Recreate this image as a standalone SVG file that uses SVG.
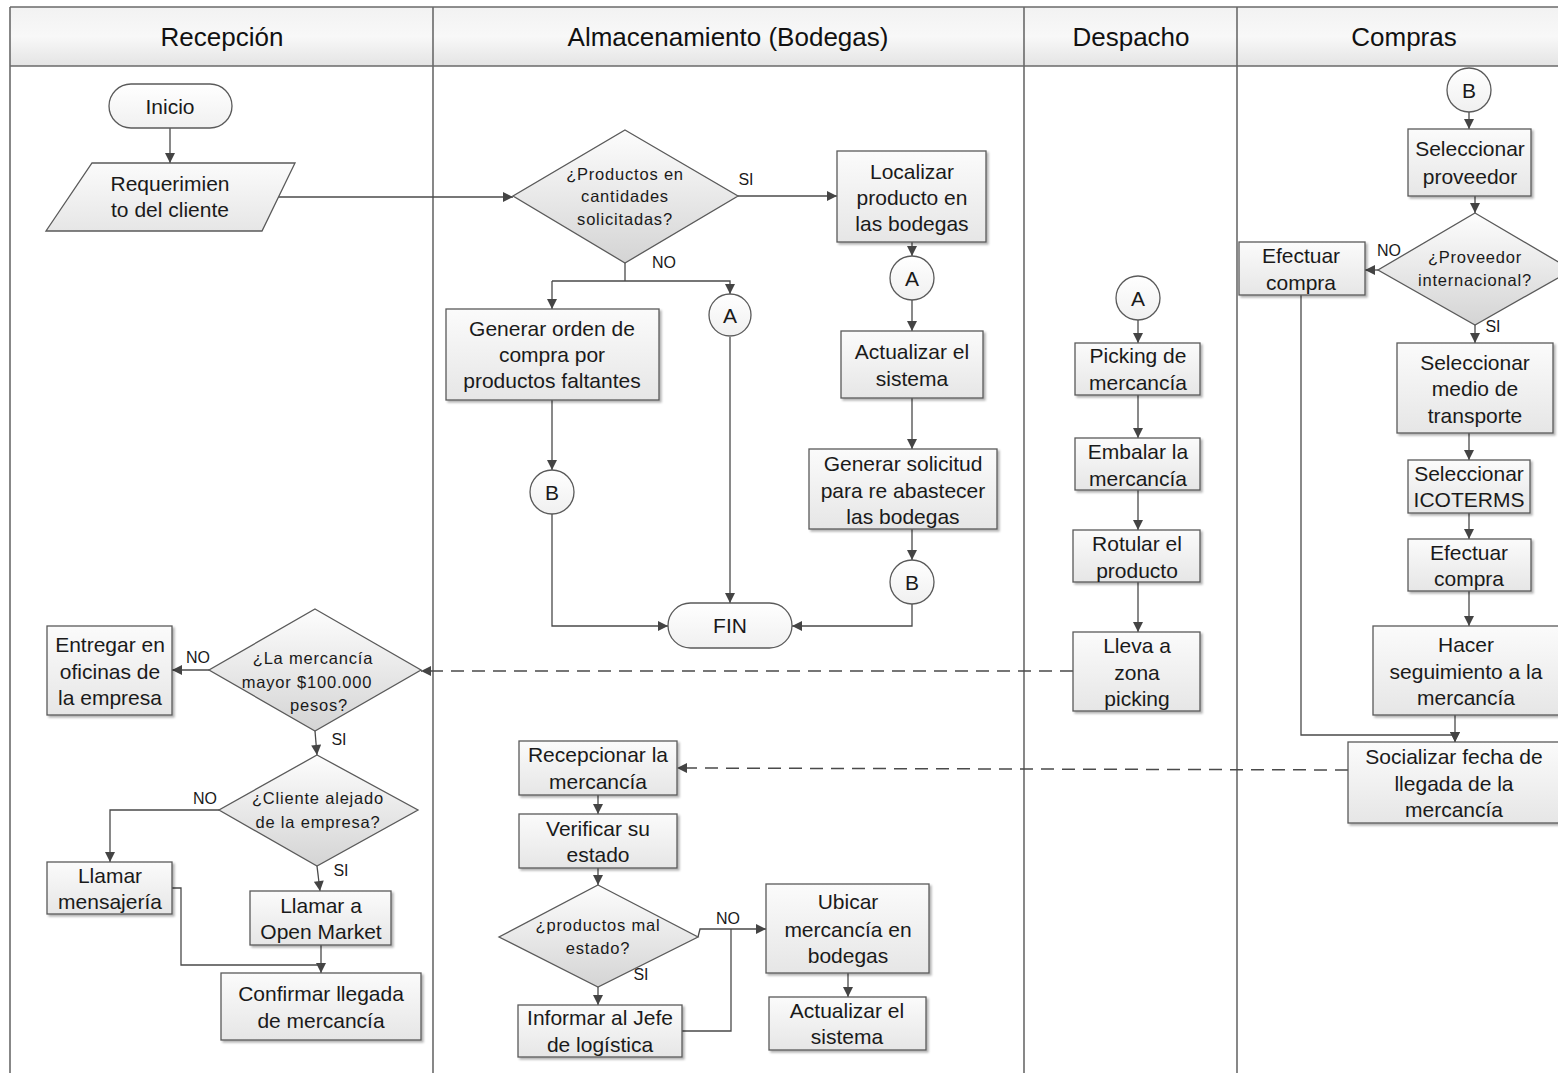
<svg xmlns="http://www.w3.org/2000/svg" width="1558" height="1073" viewBox="0 0 1558 1073">
<style>
  .lane { fill: none; stroke: #6a6a6a; stroke-width: 1.6; }
  .hdr { font-family: "Liberation Sans", Arial, sans-serif; font-size: 26px; fill: #111; text-anchor: middle; dominant-baseline: central; }
  .box { fill: url(#boxGrad); stroke: #5a5a5a; stroke-width: 1.3; filter: url(#shadow); }
  .dia { fill: url(#diaGrad); stroke: #5a5a5a; stroke-width: 1.3; }
  .term { fill: url(#termGrad); stroke: #5a5a5a; stroke-width: 1.3; }
  .circ { fill: url(#termGrad); stroke: #5a5a5a; stroke-width: 1.3; }
  .t { font-family: "Liberation Sans", Arial, sans-serif; font-size: 21px; fill: #1a1a1a; text-anchor: middle; dominant-baseline: central; }
  .td { font-family: "Liberation Sans", Arial, sans-serif; font-size: 16.5px; letter-spacing: 0.8px; fill: #1a1a1a; text-anchor: middle; dominant-baseline: central; }
  .lbl { font-family: "Liberation Sans", Arial, sans-serif; font-size: 16px; fill: #1a1a1a; text-anchor: middle; dominant-baseline: central; }
  .c { fill: none; stroke: #4a4a4a; stroke-width: 1.3; marker-end: url(#arr); }
  .cn { fill: none; stroke: #4a4a4a; stroke-width: 1.3; }
  .dash { fill: none; stroke: #4a4a4a; stroke-width: 1.5; stroke-dasharray: 13 8; marker-end: url(#arr); }
  .dashn { fill: none; stroke: #4a4a4a; stroke-width: 1.5; stroke-dasharray: 13 8; }
</style>
<defs>
  <linearGradient id="boxGrad" x1="0" y1="0" x2="0" y2="1">
    <stop offset="0" stop-color="#fbfbfb"/>
    <stop offset="1" stop-color="#e6e6e6"/>
  </linearGradient>
  <linearGradient id="diaGrad" x1="0" y1="0" x2="0" y2="1">
    <stop offset="0" stop-color="#fdfdfd"/>
    <stop offset="1" stop-color="#d4d4d4"/>
  </linearGradient>
  <linearGradient id="termGrad" x1="0" y1="0" x2="0" y2="1">
    <stop offset="0" stop-color="#ffffff"/>
    <stop offset="1" stop-color="#f0f0f0"/>
  </linearGradient>
  <linearGradient id="hdrGrad" x1="0" y1="0" x2="0" y2="1">
    <stop offset="0" stop-color="#f2f2f2"/>
    <stop offset="0.5" stop-color="#f8f8f8"/>
    <stop offset="1" stop-color="#e4e4e4"/>
  </linearGradient>
  <filter id="shadow" x="-10%" y="-10%" width="125%" height="130%">
    <feDropShadow dx="2" dy="2" stdDeviation="1.2" flood-color="#000" flood-opacity="0.3"/>
  </filter>
  <marker id="arr" viewBox="0 0 10 10" refX="10" refY="5" markerWidth="11" markerHeight="10" markerUnits="userSpaceOnUse" orient="auto">
    <path d="M0,0 L10,5 L0,10 Z" fill="#444"/>
  </marker>
</defs>

<rect x="0" y="0" width="1558" height="1073" fill="#ffffff"/>

<g id="lanes">
  <rect x="10" y="7" width="1560" height="59" fill="url(#hdrGrad)"/>
  <line class="lane" x1="10" y1="7" x2="1558" y2="7"/>
  <line class="lane" x1="10" y1="66" x2="1558" y2="66"/>
  <line class="lane" x1="10" y1="7" x2="10" y2="1073"/>
  <line class="lane" x1="433" y1="7" x2="433" y2="1073"/>
  <line class="lane" x1="1024" y1="7" x2="1024" y2="1073"/>
  <line class="lane" x1="1237" y1="7" x2="1237" y2="1073"/>
  <text class="hdr" x="222" y="37">Recepción</text>
  <text class="hdr" x="728" y="37">Almacenamiento (Bodegas)</text>
  <text class="hdr" x="1131" y="37">Despacho</text>
  <text class="hdr" x="1404" y="37">Compras</text>
</g>

<g id="connectors">
  <path class="c" d="M170,128 L170,163"/>
  <path class="c" d="M278,197 L513,197"/>
  <path class="c" d="M738,196 L837,196"/>
  <path class="c" d="M912,242 L912,256"/>
  <path class="c" d="M912,300 L912,331"/>
  <path class="c" d="M912,398 L912,449"/>
  <path class="c" d="M912,529 L912,560"/>
  <path class="c" d="M912,604 L912,626 L792,626"/>
  <path class="cn" d="M625,263 L625,281"/>
  <path class="c" d="M552,281 L552,309"/>
  <path class="c" d="M552,281 L730,281 L730,294"/>
  <path class="c" d="M552,400 L552,470"/>
  <path class="c" d="M552,514 L552,626 L668,626"/>
  <path class="c" d="M730,337 L730,603"/>

  <path class="c" d="M1138,320 L1138,343"/>
  <path class="c" d="M1138,395 L1138,438"/>
  <path class="c" d="M1138,490 L1138,530"/>
  <path class="c" d="M1138,582 L1138,632"/>
  <path class="dash" d="M1073,671 L421,671"/>

  <path class="c" d="M1469,112 L1469,129"/>
  <path class="c" d="M1475,196 L1475,213"/>
  <path class="c" d="M1378,270 L1365,270"/>
  <path class="c" d="M1475,325 L1475,343"/>
  <path class="c" d="M1469,433 L1469,460"/>
  <path class="c" d="M1469,513 L1469,539"/>
  <path class="c" d="M1469,591 L1469,626"/>
  <path class="c" d="M1455,715 L1455,742"/>
  <path class="c" d="M1301,295 L1301,735 L1455,735 L1455,742"/>
  <path class="dash" d="M1348,770 L677,768"/>

  <path class="c" d="M598,795 L598,814"/>
  <path class="c" d="M598,868 L598,885"/>
  <path class="c" d="M698,937 L700,929 L766,929"/>
  <path class="c" d="M598,987 L598,1005"/>
  <path class="cn" d="M682,1031 L731,1031 L731,929"/>
  <path class="c" d="M848,973 L848,997"/>

  <path class="c" d="M209,670 L172,670"/>
  <path class="c" d="M315,731 L317,755"/>
  <path class="c" d="M219,810 L110,810 L110,862"/>
  <path class="c" d="M317,866 L320,891"/>
  <path class="c" d="M321,945 L321,973"/>
  <path class="cn" d="M172,888 L181,888 L181,965 L321,965"/>
</g>

<g id="labels">
  <text class="lbl" x="746" y="179">SI</text>
  <text class="lbl" x="664" y="262">NO</text>
  <text class="lbl" x="1389" y="250">NO</text>
  <text class="lbl" x="1493" y="326">SI</text>
  <text class="lbl" x="728" y="918">NO</text>
  <text class="lbl" x="641" y="974">SI</text>
  <text class="lbl" x="198" y="657">NO</text>
  <text class="lbl" x="339" y="739">SI</text>
  <text class="lbl" x="205" y="798">NO</text>
  <text class="lbl" x="341" y="870">SI</text>
</g>

<g id="n-inicio">
  <rect class="term" x="109" y="84" width="123" height="44" rx="22"/>
  <text class="t" x="170" y="106">Inicio</text>
</g>
<g id="n-requerimiento">
  <polygon class="dia" style="fill:url(#boxGrad)" points="92,163 295,163 262,231 46,231"/>
  <text class="t" x="170" y="183">Requerimien</text>
  <text class="t" x="170" y="209">to del cliente</text>
</g>
<g id="n-dec-productos">
  <polygon class="dia" points="625,130 738,196 625,263 513,196"/>
  <text class="td" x="625" y="174">¿Productos en</text>
  <text class="td" x="625" y="196">cantidades</text>
  <text class="td" x="625" y="219">solicitadas?</text>
</g>
<g id="n-localizar">
  <rect class="box" x="837" y="151" width="149" height="91"/>
  <text class="t" x="912" y="171">Localizar</text>
  <text class="t" x="912" y="197">producto en</text>
  <text class="t" x="912" y="223">las bodegas</text>
</g>
<g id="n-a1">
  <circle class="circ" cx="912" cy="278" r="22"/>
  <text class="t" x="912" y="278">A</text>
</g>
<g id="n-actualizar1">
  <rect class="box" x="841" y="331" width="142" height="67"/>
  <text class="t" x="912" y="351">Actualizar el</text>
  <text class="t" x="912" y="378">sistema</text>
</g>
<g id="n-solicitud">
  <rect class="box" x="809" y="449" width="188" height="80"/>
  <text class="t" x="903" y="463">Generar solicitud</text>
  <text class="t" x="903" y="490">para re abastecer</text>
  <text class="t" x="903" y="516">las bodegas</text>
</g>
<g id="n-b1">
  <circle class="circ" cx="912" cy="582" r="22"/>
  <text class="t" x="912" y="582">B</text>
</g>
<g id="n-orden">
  <rect class="box" x="446" y="309" width="213" height="91"/>
  <text class="t" x="552" y="328">Generar orden de</text>
  <text class="t" x="552" y="354">compra por</text>
  <text class="t" x="552" y="380">productos faltantes</text>
</g>
<g id="n-a2">
  <circle class="circ" cx="730" cy="315" r="21"/>
  <text class="t" x="730" y="315">A</text>
</g>
<g id="n-b2">
  <circle class="circ" cx="552" cy="492" r="22"/>
  <text class="t" x="552" y="492">B</text>
</g>
<g id="n-fin">
  <rect class="term" x="668" y="603" width="124" height="45" rx="22.5"/>
  <text class="t" x="730" y="625">FIN</text>
</g>

<g id="n-a3">
  <circle class="circ" cx="1138" cy="298" r="22"/>
  <text class="t" x="1138" y="298">A</text>
</g>
<g id="n-picking">
  <rect class="box" x="1075" y="343" width="125" height="52"/>
  <text class="t" x="1138" y="355">Picking de</text>
  <text class="t" x="1138" y="382">mercancía</text>
</g>
<g id="n-embalar">
  <rect class="box" x="1075" y="438" width="125" height="52"/>
  <text class="t" x="1138" y="451">Embalar la</text>
  <text class="t" x="1138" y="478">mercancía</text>
</g>
<g id="n-rotular">
  <rect class="box" x="1073" y="530" width="127" height="52"/>
  <text class="t" x="1137" y="543">Rotular el</text>
  <text class="t" x="1137" y="570">producto</text>
</g>
<g id="n-lleva">
  <rect class="box" x="1073" y="632" width="127" height="79"/>
  <text class="t" x="1137" y="645">Lleva a</text>
  <text class="t" x="1137" y="672">zona</text>
  <text class="t" x="1137" y="698">picking</text>
</g>

<g id="n-b3">
  <circle class="circ" cx="1469" cy="90" r="22"/>
  <text class="t" x="1469" y="90">B</text>
</g>
<g id="n-proveedor">
  <rect class="box" x="1408" y="129" width="123" height="67"/>
  <text class="t" x="1470" y="148">Seleccionar</text>
  <text class="t" x="1470" y="176">proveedor</text>
</g>
<g id="n-dec-internacional">
  <polygon class="dia" points="1475,213 1572,270 1475,325 1378,270"/>
  <text class="td" x="1475" y="257">¿Proveedor</text>
  <text class="td" x="1475" y="280">internacional?</text>
</g>
<g id="n-efectuar1">
  <rect class="box" x="1239" y="242" width="126" height="53"/>
  <text class="t" x="1301" y="255">Efectuar</text>
  <text class="t" x="1301" y="282">compra</text>
</g>
<g id="n-transporte">
  <rect class="box" x="1397" y="343" width="156" height="90"/>
  <text class="t" x="1475" y="362">Seleccionar</text>
  <text class="t" x="1475" y="388">medio de</text>
  <text class="t" x="1475" y="415">transporte</text>
</g>
<g id="n-icoterms">
  <rect class="box" x="1408" y="460" width="122" height="53"/>
  <text class="t" x="1469" y="473">Seleccionar</text>
  <text class="t" x="1469" y="499">ICOTERMS</text>
</g>
<g id="n-efectuar2">
  <rect class="box" x="1408" y="539" width="123" height="52"/>
  <text class="t" x="1469" y="552">Efectuar</text>
  <text class="t" x="1469" y="578">compra</text>
</g>
<g id="n-seguimiento">
  <rect class="box" x="1373" y="626" width="186" height="89"/>
  <text class="t" x="1466" y="644">Hacer</text>
  <text class="t" x="1466" y="671">seguimiento a la</text>
  <text class="t" x="1466" y="697">mercancía</text>
</g>
<g id="n-socializar">
  <rect class="box" x="1348" y="742" width="212" height="81"/>
  <text class="t" x="1454" y="756">Socializar fecha de</text>
  <text class="t" x="1454" y="783">llegada de la</text>
  <text class="t" x="1454" y="809">mercancía</text>
</g>

<g id="n-recepcionar">
  <rect class="box" x="519" y="741" width="158" height="54"/>
  <text class="t" x="598" y="754">Recepcionar la</text>
  <text class="t" x="598" y="781">mercancía</text>
</g>
<g id="n-verificar">
  <rect class="box" x="519" y="814" width="158" height="54"/>
  <text class="t" x="598" y="828">Verificar su</text>
  <text class="t" x="598" y="854">estado</text>
</g>
<g id="n-dec-mal-estado">
  <polygon class="dia" points="598,885 698,937 598,987 499,937"/>
  <text class="td" x="598" y="925">¿productos mal</text>
  <text class="td" x="598" y="948">estado?</text>
</g>
<g id="n-informar">
  <rect class="box" x="518" y="1005" width="164" height="52"/>
  <text class="t" x="600" y="1017">Informar al Jefe</text>
  <text class="t" x="600" y="1044">de logística</text>
</g>
<g id="n-ubicar">
  <rect class="box" x="766" y="884" width="163" height="89"/>
  <text class="t" x="848" y="901">Ubicar</text>
  <text class="t" x="848" y="929">mercancía en</text>
  <text class="t" x="848" y="955">bodegas</text>
</g>
<g id="n-actualizar2">
  <rect class="box" x="769" y="997" width="157" height="53"/>
  <text class="t" x="847" y="1010">Actualizar el</text>
  <text class="t" x="847" y="1036">sistema</text>
</g>

<g id="n-dec-mercancia">
  <polygon class="dia" points="315,609 421,670 315,731 209,670"/>
  <text class="td" x="313" y="658">¿La mercancía</text>
  <text class="td" x="307" y="682">mayor $100.000</text>
  <text class="td" x="319" y="705">pesos?</text>
</g>
<g id="n-entregar">
  <rect class="box" x="47" y="626" width="125" height="89"/>
  <text class="t" x="110" y="644">Entregar en</text>
  <text class="t" x="110" y="671">oficinas de</text>
  <text class="t" x="110" y="697">la empresa</text>
</g>
<g id="n-dec-cliente">
  <polygon class="dia" points="317,755 418,810 317,866 219,810"/>
  <text class="td" x="318" y="798">¿Cliente alejado</text>
  <text class="td" x="318" y="822">de la empresa?</text>
</g>
<g id="n-mensajeria">
  <rect class="box" x="47" y="862" width="125" height="52"/>
  <text class="t" x="110" y="875">Llamar</text>
  <text class="t" x="110" y="901">mensajería</text>
</g>
<g id="n-openmarket">
  <rect class="box" x="250" y="891" width="141" height="54"/>
  <text class="t" x="321" y="905">Llamar a</text>
  <text class="t" x="321" y="931">Open Market</text>
</g>
<g id="n-confirmar">
  <rect class="box" x="221" y="973" width="200" height="67"/>
  <text class="t" x="321" y="993">Confirmar llegada</text>
  <text class="t" x="321" y="1020">de mercancía</text>
</g>
</svg>
